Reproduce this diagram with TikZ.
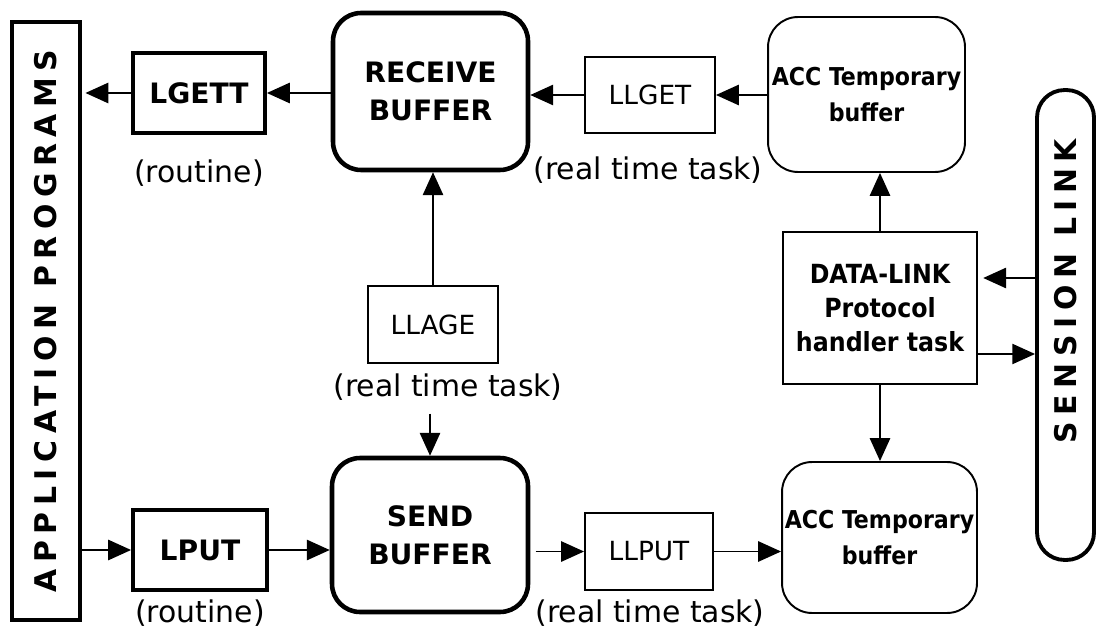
\documentclass[tikz,border=0pt]{standalone}
\usepackage{fontspec}
\setmainfont{DejaVu Sans}
\newfontfamily\condfont{DejaVu Sans Condensed}
\newfontfamily\spacedfont{DejaVu Sans}[LetterSpace=22]
\usetikzlibrary{arrows.meta,calc}

\begin{document}
\begin{tikzpicture}[x=0.02cm,y=-0.02cm,
	link/.style={line width=1.1pt,-{Triangle[length=13pt,width=11.5pt]}},
	boldbox/.style={draw,line width=2.2pt,font=\fontsize{16}{18}\selectfont\bfseries},
	taskbox/.style={draw,line width=1.1pt,font=\fontsize{15}{18}\selectfont},
	bufbox/.style={draw,line width=2.6pt,rounded corners=0.56cm,align=center,font=\fontsize{16}{21.5}\selectfont\bfseries},
	accbox/.style={draw,line width=1.1pt,rounded corners=0.6cm,align=center,inner xsep=0pt,font=\condfont\fontsize{14}{20}\selectfont\bfseries},
	protobox/.style={draw,line width=1.1pt,align=center,font=\condfont\fontsize{15}{19.5}\selectfont\bfseries},
	note/.style={font=\fontsize{17}{20}\selectfont},
	sidetext/.style={font=\spacedfont\fontsize{17}{18}\selectfont\bfseries}]
	\useasboundingbox (0,0) rectangle (1097,631);

	%SIDES
	\node (app) [draw,line width=2.2pt,minimum width=1.36cm,minimum height=11.96cm,inner sep=0pt,sidetext] at (46,321) {\rotatebox{90}{APPLICATION PROGRAMS}};
	\node (sension) [draw,line width=2.2pt,rounded corners=0.55cm,minimum width=1.14cm,minimum height=9.4cm] at (1065.5,325) {};
	\node (sensiontext) [sidetext,rotate=90] at (1066,291) {SENSION LINK};

	%TOP ROW
	\node (lgett) [boldbox,minimum width=2.64cm,minimum height=1.6cm] at (199,93) {LGETT};
	\node (lgettnote) [note] at (199,173) {(routine)};
	\node (recv) [bufbox,minimum width=3.9cm,minimum height=3.14cm] at (430.5,91.5) {RECEIVE\\BUFFER};
	\node (llget) [taskbox,minimum width=2.6cm,minimum height=1.52cm] at (650,95) {LLGET};
	\node (llgetnote) [note] at (648,170) {(real time task)};
	\node (acctop) [accbox,minimum width=3.94cm,minimum height=3.1cm] at (866.5,94.5) {ACC Temporary\\buffer};

	%MIDDLE
	\node (llage) [taskbox,minimum width=2.6cm,minimum height=1.54cm] at (433,324.5) {LLAGE};
	\node (llagenote) [note] at (448,387) {(real time task)};
	\node (dlink) [protobox,minimum width=3.88cm,minimum height=3.04cm] at (880,308) {DATA-LINK\\Protocol\\handler task};

	%BOTTOM ROW
	\node (lput) [boldbox,minimum width=2.68cm,minimum height=1.6cm] at (200,550) {LPUT};
	\node (lputnote) [note] at (200,613) {(routine)};
	\node (send) [bufbox,minimum width=3.92cm,minimum height=3.08cm] at (430,535) {SEND\\BUFFER};
	\node (llput) [taskbox,minimum width=2.56cm,minimum height=1.54cm] at (649,551.5) {LLPUT};
	\node (llputnote) [note] at (650,613) {(real time task)};
	\node (accbot) [accbox,minimum width=3.9cm,minimum height=3.02cm] at (879.5,537.5) {ACC Temporary\\buffer};

	%ARROWS
	\draw[link] (acctop.west |- llget.east) -- (llget.east);
	\draw[link] (llget.west) -- (llget.west -| recv.east);
	\draw[link] (recv.west |- lgett.east) -- (lgett.east);
	\draw[link,shorten >=2pt] (lgett.west) -- (lgett.west -| app.east);
	\draw[link] (llage.north) -- (llage.north |- recv.south);
	\draw[link,shorten <=4pt] (send.north |- llagenote.south) -- (send.north);
	\draw[link] (app.east |- lput.west) -- (lput.west);
	\draw[link] (lput.east) -- (lput.east -| send.west);
	\draw[link,shorten <=3pt] (send.east |- llput.west) -- (llput.west);
	\draw[link] (llput.east) -- (llput.east -| accbot.west);
	\draw[link] (dlink.north) -- (dlink.north |- acctop.south);
	\draw[link] (dlink.south) -- (dlink.south |- accbot.north);
	\coordinate (din) at ($(dlink.east)+(0,-30)$);
	\coordinate (dout) at ($(dlink.east)+(0,46)$);
	\draw[link,shorten >=3pt] (din -| sension.west) -- (din);
	\draw[link] (dout) -- (dout -| sension.west);
\end{tikzpicture}
\end{document}
